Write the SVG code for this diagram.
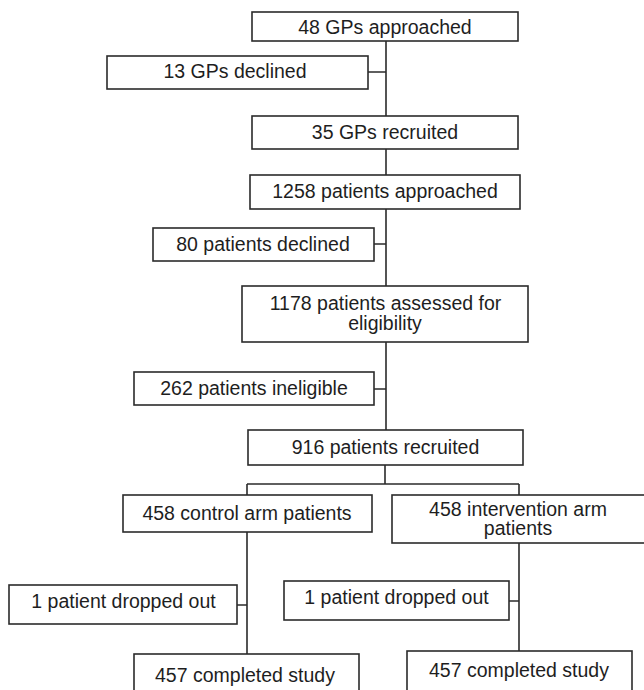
<svg xmlns="http://www.w3.org/2000/svg" width="644" height="690" viewBox="0 0 644 690">
<style>
.box{fill:#fff;stroke:#2b2b2b;stroke-width:1.6}
.t{font-family:"Liberation Sans",Arial,sans-serif;font-size:19.5px;fill:#1e1e1e;text-anchor:middle}
.c{fill:none;stroke:#2b2b2b;stroke-width:1.6}
</style>
<rect width="644" height="690" fill="#fff"/>
<g id="connectors">
<path class="c" d="M386 41V116M368 72H386"/>
<path class="c" d="M386 149V175"/>
<path class="c" d="M386 209V286M374 244H386"/>
<path class="c" d="M386 342V430M374 389H386"/>
<path class="c" d="M385 465V484M247 484H519M247 484V495M519 484V495"/>
<path class="c" d="M247 532V654M237 605H247"/>
<path class="c" d="M519 543V651M509 601H519"/>
</g>
<g id="n1"><rect class="box" x="252" y="12" width="266" height="29"/><text class="t" x="385" y="33.5">48 GPs approached</text></g>
<g id="n2"><rect class="box" x="107" y="56" width="261" height="33"/><text class="t" x="235" y="77.5">13 GPs declined</text></g>
<g id="n3"><rect class="box" x="252" y="116" width="266" height="33"/><text class="t" x="385" y="138.5">35 GPs recruited</text></g>
<g id="n4"><rect class="box" x="250" y="175" width="270" height="34"/><text class="t" x="385" y="197.5">1258 patients approached</text></g>
<g id="n5"><rect class="box" x="153" y="228" width="221" height="33"/><text class="t" x="263" y="251">80 patients declined</text></g>
<g id="n6"><rect class="box" x="242" y="286" width="286" height="56"/><text class="t" x="385.5" y="309.5">1178 patients assessed for</text><text class="t" x="385" y="330">eligibility</text></g>
<g id="n7"><rect class="box" x="134" y="372" width="240" height="33"/><text class="t" x="254" y="395">262 patients ineligible</text></g>
<g id="n8"><rect class="box" x="248" y="430" width="275" height="35"/><text class="t" x="385.5" y="454">916 patients recruited</text></g>
<g id="n9"><rect class="box" x="123" y="495" width="249" height="37"/><text class="t" x="247" y="519.5">458 control arm patients</text></g>
<g id="n10"><rect class="box" x="392" y="495" width="260" height="48"/><text class="t" x="518" y="515.5">458 intervention arm</text><text class="t" x="518" y="535">patients</text></g>
<g id="n11"><rect class="box" x="9" y="585" width="228" height="39"/><text class="t" x="123.5" y="608">1 patient dropped out</text></g>
<g id="n12"><rect class="box" x="284" y="581" width="225" height="39"/><text class="t" x="396.5" y="604">1 patient dropped out</text></g>
<g id="n13"><rect class="box" x="134" y="654" width="225" height="50"/><text class="t" x="245" y="682">457 completed study</text></g>
<g id="n14"><rect class="box" x="407" y="651" width="225" height="50"/><text class="t" x="519" y="676.5">457 completed study</text></g>
</svg>
